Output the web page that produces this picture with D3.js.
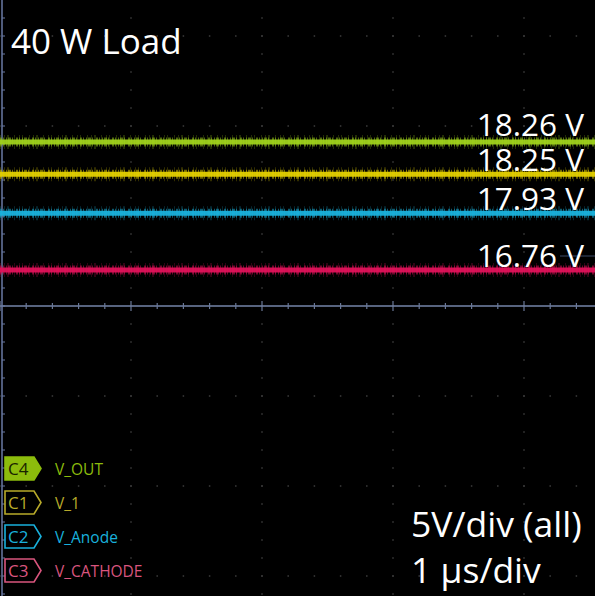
<!DOCTYPE html>
<html>
<head>
<meta charset="utf-8">
<script src="https://cdn.jsdelivr.net/npm/d3@7"></script>
<style>
  html, body { margin: 0; padding: 0; background: #000; }
  svg { display: block; font-family: "Open Sans", sans-serif; }
</style>
</head>
<body>
<div id="chart"></div>
<script>
// channel data
const channels = ["C4", "C1", "C2", "C3"]
const channelNames = ["V_OUT", "V_1", "V_Anode", "V_CATHODE"]
const levels = [18.26, 18.25, 17.93, 16.76]          // measured mean, V
const offsets = [9.15, 10.93, 12.78, 14.76]           // channel offset, V
const colors = ["#9fd21c", "#e3d000", "#1ab2dc", "#e0125a"]
const badgeColors = ["#8cbc0c", "#b8aa2a", "#19b0dc", "#d9557e"]
const voltsPerDiv = 5
const title = "40 W Load"
const scaleNotes = ["5V/div (all)", "1 \u00b5s/div"]

const W = 595, H = 596

const svg = d3.select("#chart").append("svg")
  .attr("width", W).attr("height", H)

svg.append("rect").attr("width", W).attr("height", H).attr("fill", "#000")

// screen scales: 10 x 10 divisions, only part of the screen is shown
const x = d3.scaleLinear().domain([-5, 5]).range([0, 1310])   // µs
const y = d3.scaleLinear().domain([-5, 5]).range([756, -144]) // divisions

const g = svg.append("g")

// grid dots along horizontal grid lines
const hLines = [-3, -2, -1, 1, 2, 3]
const xMinor = d3.range(-5, 5.001, 0.2).filter(t => x(t) < W)
hLines.forEach(v => {
  g.selectAll(null).data(xMinor).enter().append("rect")
    .attr("x", t => x(t) - 0.75).attr("y", y(v) - 0.75)
    .attr("width", 1.5).attr("height", 1.5)
    .attr("fill", "#3c3c3c")
})
// grid dots along vertical grid lines
const vLines = [-4, -3, -2, -1]
const yMinor = d3.range(-5, 5.001, 0.2).filter(v => y(v) > 0 && y(v) < H)
vLines.forEach(t => {
  g.selectAll(null).data(yMinor).enter().append("rect")
    .attr("x", x(t) - 0.75).attr("y", v => y(v) - 0.75)
    .attr("width", 1.5).attr("height", 1.5)
    .attr("fill", "#3c3c3c")
})

// center horizontal axis with ticks
g.append("line")
  .attr("x1", 0).attr("x2", W).attr("y1", y(0)).attr("y2", y(0))
  .attr("stroke", "#7585a8").attr("stroke-width", 1.5)
g.selectAll(null).data(xMinor).enter().append("line")
  .attr("x1", t => x(t)).attr("x2", t => x(t))
  .attr("y1", t => y(0) - (Math.abs(t % 1) < 1e-6 ? 5 : 3))
  .attr("y2", t => y(0) + (Math.abs(t % 1) < 1e-6 ? 5 : 3))
  .attr("stroke", "#6a7898").attr("stroke-width", 1.2)

// left edge axis with ticks
g.append("line")
  .attr("x1", 2).attr("x2", 2).attr("y1", 0).attr("y2", H)
  .attr("stroke", "#6a7aa4").attr("stroke-width", 1.5)
g.selectAll(null).data(yMinor).enter().append("line")
  .attr("x1", 2).attr("x2", 5)
  .attr("y1", v => y(v)).attr("y2", v => y(v))
  .attr("stroke", "#6a7aa4").attr("stroke-width", 1)

// trigger marker at right
g.append("line")
  .attr("x1", 560).attr("x2", W).attr("y1", 256).attr("y2", 256)
  .attr("stroke", "#3c4a66").attr("stroke-width", 1)

// traces
const traceData = levels.map((v, i) => ({
  name: channelNames[i], color: colors[i],
  pts: [[-5, (v - offsets[i]) / voltsPerDiv], [x.invert(W), (v - offsets[i]) / voltsPerDiv]]
}))
const line = d3.line().x(d => x(d[0])).y(d => y(d[1]))

const traces = g.selectAll("g.trace").data(traceData).enter().append("g")
  .attr("class", "trace")
traces.append("path")
  .attr("d", d => line(d.pts))
  .attr("stroke", d => d.color).attr("stroke-width", 14).attr("fill", "none")
  .attr("opacity", 0.22)
  .attr("stroke-dasharray", "1,3,1,2,2,5,1,4,1,2,1,6")
traces.append("path")
  .attr("d", d => line(d.pts))
  .attr("stroke", d => d.color).attr("stroke-width", 9).attr("fill", "none")
  .attr("opacity", 0.5)
  .attr("stroke-dasharray", "2,1,1,2,1,1,3,1,1,3")
traces.append("path")
  .attr("d", d => line(d.pts))
  .attr("stroke", d => d.color).attr("stroke-width", 5).attr("fill", "none")
  .attr("opacity", 0.95)

// readouts
g.selectAll("text.readout").data(traceData).enter().append("text")
  .attr("class", "readout")
  .attr("x", 584)
  .attr("y", (d, i) => y(d.pts[0][1]) - (i === 0 ? 6 : 3))
  .attr("text-anchor", "end")
  .attr("fill", "#fff")
  .attr("font-size", 31.5)
  .text((d, i) => levels[i].toFixed(2) + " V")

// title
svg.append("text")
  .attr("x", 11).attr("y", 54)
  .attr("fill", "#fff").attr("font-size", 35)
  .text(title)

// scale notes
svg.selectAll("text.note").data(scaleNotes).enter().append("text")
  .attr("class", "note")
  .attr("x", 411).attr("y", (d, i) => 537 + i * 46)
  .attr("fill", "#fff").attr("font-size", 35.5)
  .text(d => d)

// channel legend
const legend = svg.selectAll("g.legend").data(channels).enter().append("g")
  .attr("class", "legend")
  .attr("transform", (d, i) => `translate(4, ${456 + i * 34})`)
legend.append("path")
  .attr("d", "M1,1 H30 L37,12.5 L30,24 H1 Z")
  .attr("fill", (d, i) => i === 0 ? badgeColors[0] : "#000")
  .attr("stroke", (d, i) => badgeColors[i]).attr("stroke-width", 1.6)
legend.append("text")
  .attr("x", 4).attr("y", 19)
  .attr("font-size", 17)
  .attr("fill", (d, i) => i === 0 ? "#1a2400" : badgeColors[i])
  .text(d => d)
legend.append("text")
  .attr("x", 51).attr("y", 18.5)
  .attr("font-size", 15.5)
  .attr("fill", (d, i) => badgeColors[i])
  .text((d, i) => channelNames[i])
</script>
</body>
</html>
